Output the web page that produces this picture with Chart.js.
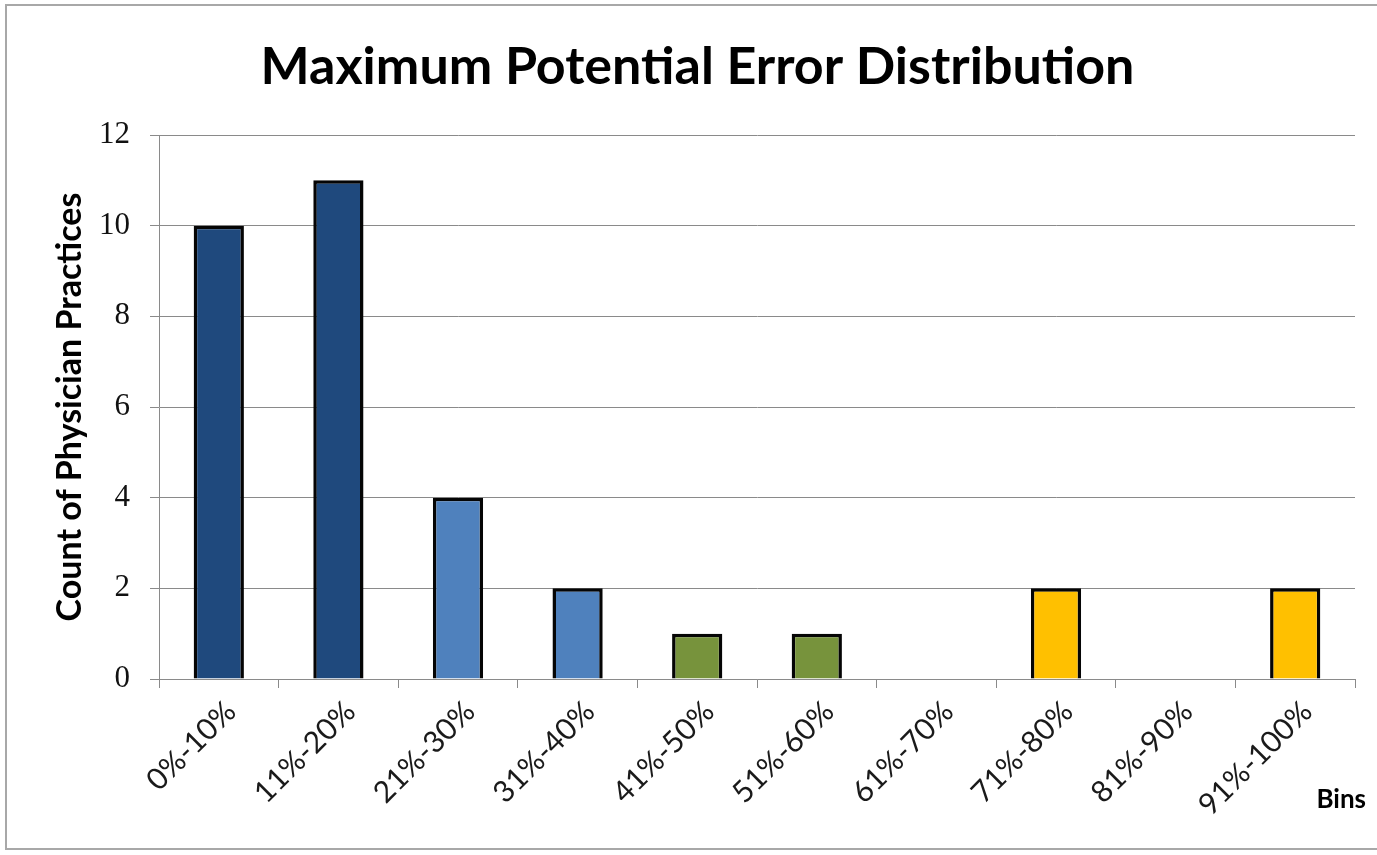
<!DOCTYPE html>
<html>
<head>
<meta charset="utf-8">
<script src="https://cdn.jsdelivr.net/npm/chart.js@4.4.1/dist/chart.umd.min.js"></script>
<style>
  html, body { margin: 0; padding: 0; background: #fff; overflow: hidden; }
  #frame { position: absolute; left: 5px; top: 4px; width: 1420px; height: 846px; border: 2px solid #a8a8a8; box-sizing: border-box; }
  #wrap { position: absolute; left: 0; top: 0; width: 1377px; height: 855px; }
</style>
</head>
<body>
<div id="frame"></div>
<div id="wrap"><canvas id="c" width="1377" height="855"></canvas></div>
<script>
// Error bins and number of physician practices falling in each
const binLabels = ['0%-10%', '11%-20%', '21%-30%', '31%-40%', '41%-50%', '51%-60%', '61%-70%', '71%-80%', '81%-90%', '91%-100%'];
const practiceCounts = [10, 11, 4, 2, 1, 1, 0, 2, 0, 2];
const yTicks = [0, 2, 4, 6, 8, 10, 12];

// Fill colour per bin group
const NAVY = '#1F497D', BLUE = '#4F81BD', GREEN = '#77933C', GOLD = '#FFC000';
const binColors = [NAVY, NAVY, BLUE, BLUE, GREEN, GREEN, GREEN, GOLD, GOLD, GOLD];

const gridGray = '#8a8a8a';

// Axis caption "Bins" sits just past the right end of the category axis
const binsCaption = {
  id: 'binsCaption',
  afterDraw(chart) {
    const { ctx, chartArea } = chart;
    ctx.save();
    ctx.font = 'bold 26px Lato';
    ctx.fillStyle = '#000';
    ctx.textAlign = 'right';
    ctx.textBaseline = 'middle';
    ctx.fillText('Bins', chartArea.right + 11, chartArea.bottom + 121);
    ctx.restore();
  }
};

new Chart(document.getElementById('c'), {
  type: 'bar',
  data: {
    labels: binLabels,
    datasets: [{
      data: practiceCounts,
      backgroundColor: binColors,
      borderColor: '#050505',
      borderWidth: 3.5,
      categoryPercentage: 1,
      barPercentage: 0.42
    }]
  },
  options: {
    responsive: false,
    animation: false,
    layout: { padding: { top: 0, left: 40, right: 22, bottom: 0 } },
    plugins: {
      legend: { display: false },
      tooltip: { enabled: false },
      title: {
        display: true,
        text: 'Maximum Potential Error Distribution',
        color: '#000',
        font: { family: 'Lato', size: 52, weight: 'bold' },
        padding: { top: 36, bottom: 36.6 }
      }
    },
    scales: {
      x: {
        grid: { offset: true, drawOnChartArea: false, drawTicks: true, tickLength: 9, color: gridGray, lineWidth: 1 },
        border: { display: true, color: gridGray, width: 1 },
        ticks: {
          color: '#1a1a1a',
          font: { family: 'Lato', size: 30 },
          maxRotation: 45, minRotation: 45,
          padding: 6,
          labelOffset: 12,
          autoSkip: false
        },
        afterFit: (s) => { s.height = 176; }
      },
      y: {
        min: 0, max: 12,
        afterBuildTicks: (s) => { s.ticks = yTicks.map(v => ({ value: v })); },
        grid: { drawTicks: true, tickLength: 9, color: gridGray, lineWidth: 1 },
        border: { display: true, color: gridGray, width: 1 },
        ticks: {
          color: '#111',
          font: { family: 'Liberation Serif', size: 31 },
          padding: 20
        },
        title: {
          display: true,
          text: 'Count of Physician Practices',
          color: '#000',
          font: { family: 'Lato', size: 34, weight: 'bold' },
          padding: { top: 9.6, bottom: 0 }
        },
        afterFit: (s) => { s.width = 119; }
      }
    }
  },
  plugins: [binsCaption]
});
</script>
</body>
</html>
